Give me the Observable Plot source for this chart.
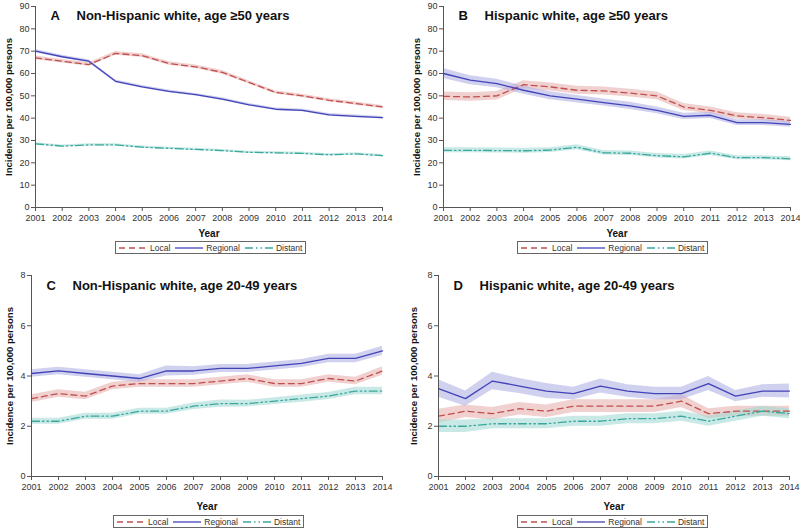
<!DOCTYPE html>
<html><head><meta charset="utf-8">
<script src="https://cdn.jsdelivr.net/npm/d3@7"></script>
<script src="https://cdn.jsdelivr.net/npm/@observablehq/plot@0.6"></script>
<style>
body{margin:0;background:#fff;font-family:"Liberation Sans",Arial,sans-serif;}
#root{position:relative;width:800px;height:529px;overflow:hidden;}
.panel{position:absolute;}
.legend{position:absolute;height:11px;border:1px solid #666;font-size:8.5px;color:#333;display:flex;align-items:center;padding:0 3px;gap:5px;white-space:nowrap;background:#fff;}
.legend span{display:flex;align-items:center;gap:3px;}
</style></head>
<body><div id="root"></div>
<script>
const years = [2001,2002,2003,2004,2005,2006,2007,2008,2009,2010,2011,2012,2013,2014];
const seriesNames = ["Local","Regional","Distant"];
const colors = ["#c0504d","#4343b8","#3aa89e"];
const bandColors = ["#e8b0b0","#b0b0e4","#a4dad4"];
const dashes = ["6,4","none","8,3,1.5,3,1.5,3"];

// Panel A: Non-Hispanic white, age >=50
const aLocal    = [67,65.5,64,69,68,64.5,63,60.5,56,51.5,50,48,46.5,45];
const aLocalCI  = [0.8,0.8,0.8,0.8,0.8,0.8,0.8,0.8,0.7,0.7,0.7,0.7,0.7,0.7];
const aRegional = [70,67.5,65.5,56.5,54,52,50.5,48.5,46,44,43.5,41.5,40.8,40.2];
const aRegionalCI = [0.7,0.7,0.7,0.6,0.6,0.6,0.6,0.6,0.6,0.6,0.6,0.6,0.6,0.6];
const aDistant  = [28.5,27.5,28,28,27,26.5,26,25.5,24.7,24.5,24.2,23.6,24,23.2];
const aDistantCI = [0.5,0.5,0.5,0.5,0.5,0.5,0.5,0.5,0.5,0.5,0.5,0.5,0.5,0.5];

// Panel B: Hispanic white, age >=50
const bLocal    = [49.8,49.5,50,55,54,52.5,52.2,51.2,50,45,43.5,41,40.2,39];
const bLocalCI  = [1.9,1.9,1.9,1.8,1.8,1.8,1.8,1.7,1.7,1.6,1.5,1.4,1.4,1.4];
const bRegional = [60,57,55.5,52.5,50,48.5,47,45.5,43.5,40.8,41.3,38,38,37.2];
const bRegionalCI = [2.2,2,1.9,1.8,1.8,1.7,1.6,1.6,1.5,1.4,1.4,1.3,1.3,1.3];
const bDistant  = [25.6,25.6,25.5,25.4,25.7,27,24.5,24.3,23.2,22.7,24.3,22.3,22.3,21.8];
const bDistantCI = [1.1,1.1,1.1,1.1,1.1,1.1,1,1,1,1,1,0.9,0.9,0.9];

// Panel C: Non-Hispanic white, age 20-49
const cLocal    = [3.1,3.3,3.2,3.6,3.7,3.7,3.7,3.8,3.9,3.7,3.7,3.9,3.8,4.2];
const cLocalCI  = [0.15,0.15,0.15,0.15,0.15,0.15,0.15,0.15,0.15,0.15,0.15,0.15,0.15,0.17];
const cRegional = [4.1,4.2,4.1,4.0,3.9,4.2,4.2,4.3,4.3,4.4,4.5,4.7,4.7,5.0];
const cRegionalCI = [0.15,0.15,0.15,0.15,0.15,0.2,0.17,0.16,0.16,0.16,0.16,0.17,0.17,0.18];
const cDistant  = [2.2,2.2,2.4,2.4,2.6,2.6,2.8,2.9,2.9,3.0,3.1,3.2,3.4,3.4];
const cDistantCI = [0.12,0.12,0.12,0.12,0.12,0.12,0.13,0.14,0.13,0.13,0.14,0.14,0.15,0.15];

// Panel D: Hispanic white, age 20-49
const dLocal    = [2.4,2.6,2.5,2.7,2.6,2.8,2.8,2.8,2.8,3.0,2.5,2.6,2.6,2.6];
const dLocalCI  = [0.28,0.25,0.25,0.25,0.25,0.25,0.25,0.25,0.25,0.25,0.2,0.2,0.2,0.2];
const dRegional = [3.5,3.1,3.8,3.6,3.4,3.3,3.6,3.4,3.3,3.3,3.7,3.2,3.4,3.4];
const dRegionalCI = [0.35,0.3,0.35,0.3,0.3,0.25,0.28,0.25,0.25,0.25,0.28,0.22,0.25,0.28];
const dDistant  = [2.0,2.0,2.1,2.1,2.1,2.2,2.2,2.3,2.3,2.4,2.2,2.4,2.6,2.5];
const dDistantCI = [0.25,0.25,0.2,0.2,0.2,0.2,0.2,0.2,0.2,0.2,0.2,0.2,0.2,0.2];

const yLabel = "Incidence per 100,000 persons";
const ticksBig = [0,10,20,30,40,50,60,70,80,90];
const ticksSmall = [0,2,4,6,8];

function toRows(vals, ci){ return years.map((y,i)=>({year:y, v:vals[i], lo:vals[i]-ci[i], hi:vals[i]+ci[i]})); }

function makePanel(o){
  const sets = [toRows(o.local,o.localCI), toRows(o.regional,o.regionalCI), toRows(o.distant,o.distantCI)];
  const marks = [];
  sets.forEach((rows,k)=>marks.push(Plot.areaY(rows,{x:"year",y1:"lo",y2:"hi",fill:bandColors[k],fillOpacity:0.6})));
  sets.forEach((rows,k)=>marks.push(Plot.lineY(rows,{x:"year",y:"v",stroke:colors[k],strokeWidth:1.3,strokeDasharray:dashes[k]})));
  marks.push(Plot.ruleY([0],{stroke:"#555"}));
  marks.push(Plot.ruleX([2001],{stroke:"#555"}));
  marks.push(Plot.axisX({ticks:years,tickFormat:"d",tickSize:4,stroke:"#555",fill:"#333",fontSize:9,tickPadding:3,label:"Year",labelAnchor:"center",labelArrow:"none",labelOffset:o.xLabelOffset}));
  marks.push(Plot.axisY({ticks:o.ticks,tickSize:4,stroke:"#555",fill:"#333",fontSize:9,tickPadding:2,label:yLabel,labelAnchor:"center",labelArrow:"none",labelOffset:o.yLabelOffset}));
  marks.push(Plot.text([o.letter],{frameAnchor:"top-left",dx:o.letterDx,dy:o.titleDy,text:d=>d,fontSize:13,fontWeight:"bold",fill:"#111",textAnchor:"start"}));
  marks.push(Plot.text([o.title],{frameAnchor:"top-left",dx:o.letterDx+26,dy:o.titleDy,text:d=>d,fontSize:13,fontWeight:"bold",fill:"#111",textAnchor:"start"}));
  const svg = Plot.plot({
    width:400, height:o.height,
    marginLeft:o.ml, marginRight:o.mr, marginTop:o.mt, marginBottom:o.mb,
    style:{fontFamily:"'Liberation Sans',Arial,sans-serif",background:"transparent",fontSize:"9px"},
    x:{domain:[2001,2014]},
    y:{domain:o.ydomain},
    marks
  });
  const wrap = document.createElement("div");
  wrap.className="panel";
  wrap.style.left=o.left+"px"; wrap.style.top=o.top+"px";
  wrap.appendChild(svg);
  svg.querySelectorAll("g[aria-label='x-axis label'] text, g[aria-label='y-axis label'] text").forEach(t=>{t.setAttribute("font-weight","bold");t.setAttribute("fill","#111");t.setAttribute("font-size", t.closest("g[aria-label='x-axis label']")?"10":"9.5");});
  document.getElementById("root").appendChild(wrap);
  const lg = document.createElement("div");
  lg.className="legend";
  lg.style.left=o.legLeft+"px"; lg.style.top=o.legTop+"px";
  seriesNames.forEach((n,k)=>{
    const s=document.createElement("span");
    s.innerHTML=`<svg width="28" height="6"><line x1="0" y1="3" x2="28" y2="3" stroke="${colors[k]}" stroke-width="1.3" stroke-dasharray="${dashes[k]==="none"?"":dashes[k]}"/></svg>${n}`;
    lg.appendChild(s);
  });
  document.getElementById("root").appendChild(lg);
}

makePanel({letter:"A",title:"Non-Hispanic white, age \u226550 years",local:aLocal,localCI:aLocalCI,regional:aRegional,regionalCI:aRegionalCI,distant:aDistant,distantCI:aDistantCI,
  ticks:ticksBig,ydomain:[0,90],left:0,top:0,height:240,ml:35,mr:18,mt:6,mb:33,xLabelOffset:29,yLabelOffset:30,letterDx:15,titleDy:4,legLeft:115,legTop:241});
makePanel({letter:"B",title:"Hispanic white, age \u226550 years",local:bLocal,localCI:bLocalCI,regional:bRegional,regionalCI:bRegionalCI,distant:bDistant,distantCI:bDistantCI,
  ticks:ticksBig,ydomain:[0,90],left:400,top:0,height:240,ml:43,mr:10,mt:6,mb:33,xLabelOffset:29,yLabelOffset:30,letterDx:15,titleDy:4,legLeft:517,legTop:241});
makePanel({letter:"C",title:"Non-Hispanic white, age 20-49 years",local:cLocal,localCI:cLocalCI,regional:cRegional,regionalCI:cRegionalCI,distant:cDistant,distantCI:cDistantCI,
  ticks:ticksSmall,ydomain:[0,8],left:0,top:264,height:250,ml:31,mr:18,mt:11,mb:38,xLabelOffset:33,yLabelOffset:25,letterDx:15,titleDy:5,legLeft:113,legTop:515});
makePanel({letter:"D",title:"Hispanic white, age 20-49 years",local:dLocal,localCI:dLocalCI,regional:dRegional,regionalCI:dRegionalCI,distant:dDistant,distantCI:dDistantCI,
  ticks:ticksSmall,ydomain:[0,8],left:400,top:264,height:250,ml:38,mr:11,mt:11,mb:38,xLabelOffset:33,yLabelOffset:28,letterDx:15,titleDy:5,legLeft:517,legTop:515});
</script></body></html>
